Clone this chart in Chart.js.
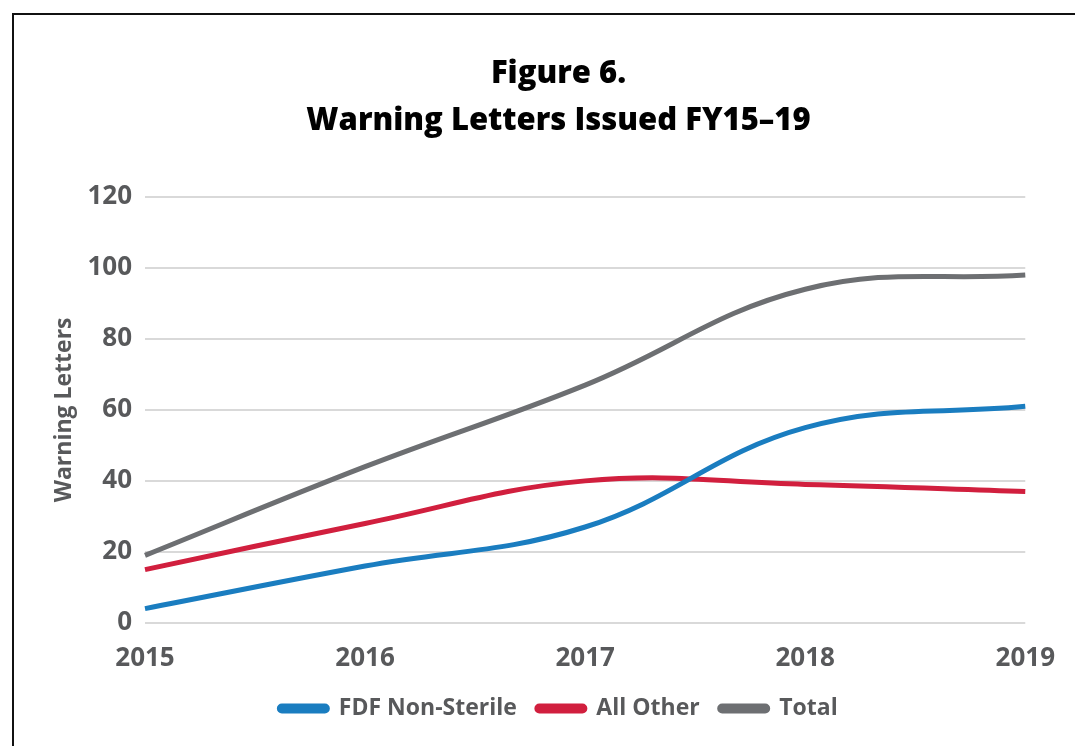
<!DOCTYPE html>
<html>
<head>
<meta charset="utf-8">
<script src="https://cdn.jsdelivr.net/npm/chart.js@4.4.0/dist/chart.umd.min.js"></script>
<style>
  html, body { margin: 0; padding: 0; background: #ffffff; }
  #wrap { position: relative; width: 1075px; height: 746px; overflow: hidden; }
  #frame { position: absolute; left: 12px; top: 13px; width: 1100px; height: 800px;
           border-top: 2px solid #111; border-left: 2px solid #111; box-sizing: border-box; }
  canvas { position: absolute; left: 0; top: 0; }
</style>
</head>
<body>
<div id="wrap">
  <div id="frame"></div>
  <canvas id="c" width="1075" height="746"></canvas>
</div>
<script>
const years = ['2015', '2016', '2017', '2018', '2019'];
const fdfNonSterile = [4, 16, 27, 55, 61];
const allOther = [15, 28, 40, 39, 37];
const total = [19, 44, 67, 94, 98];
const yTicks = [0, 20, 40, 60, 80, 100, 120];

const FONT = "'Open Sans', 'DejaVu Sans', sans-serif";
const TICK_COLOR = '#58595b';

const ds = (label, data, color) => ({
  label, data,
  borderColor: color, backgroundColor: color,
  borderWidth: 5, pointRadius: 0, pointHoverRadius: 0,
  tension: 0.4, cubicInterpolationMode: 'default',
  borderCapStyle: 'butt', fill: false
});

new Chart(document.getElementById('c'), {
  type: 'line',
  data: {
    labels: years,
    datasets: [
      ds('FDF Non-Sterile', fdfNonSterile, '#1a7dc0'),
      ds('All Other', allOther, '#d11f3e'),
      ds('Total', total, '#6d6f72')
    ]
  },
  options: {
    responsive: false,
    devicePixelRatio: 1,
    animation: false,
    layout: { padding: { top: 51, left: 62, right: 20, bottom: 16 } },
    plugins: {
      tooltip: { enabled: false },
      title: {
        display: true,
        text: ['Figure 6.', 'Warning Letters Issued FY15–19'],
        color: '#000000',
        font: { family: FONT, size: 31, weight: '800', lineHeight: 1.5 },
        padding: { top: 0, bottom: 53 }
      },
      legend: {
        position: 'bottom',
        labels: {
          color: TICK_COLOR,
          font: { family: FONT, size: 23, weight: 'bold' },
          boxWidth: 48, boxHeight: 5,
          useBorderRadius: true, borderRadius: 2.5,
          padding: 20
        }
      }
    },
    scales: {
      x: {
        offset: false,
        grid: { display: false, drawTicks: false },
        border: { display: false },
        ticks: { color: TICK_COLOR, font: { family: FONT, size: 26, weight: 'bold' }, padding: 20, maxRotation: 0 },
        afterFit: (axis) => { axis.height -= 17; }
      },
      y: {
        min: 0, max: 120,
        afterBuildTicks: (axis) => { axis.ticks = yTicks.map(v => ({ value: v })); },
        afterFit: (axis) => { axis.width = 83; },
        grid: { color: '#d9d9d9', lineWidth: 2, drawTicks: false },
        border: { display: false },
        ticks: { color: TICK_COLOR, font: { family: FONT, size: 26, weight: 'bold' }, padding: 13 },
        title: {
          display: true, text: 'Warning Letters', color: TICK_COLOR,
          font: { family: FONT, size: 23, weight: 'bold' }, padding: { top: -11, bottom: 0 }
        }
      }
    }
  }
});
</script>
</body>
</html>
